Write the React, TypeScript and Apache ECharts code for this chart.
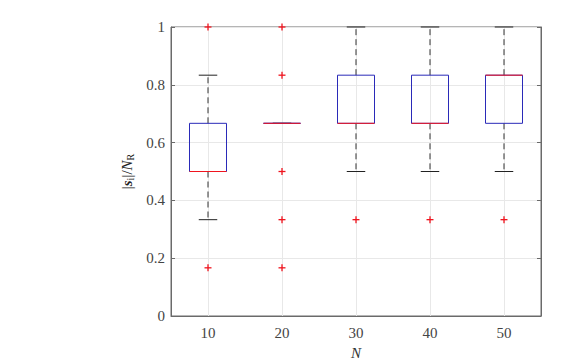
import React, { useEffect, useRef } from "react";
import * as echarts from "echarts";

const categories = ["10", "20", "30", "40", "50"];
const lowWhisker = [0.3333, 0.6667, 0.5, 0.5, 0.5];
const q1 = [0.5, 0.6667, 0.6667, 0.6667, 0.6667];
const median = [0.5, 0.6667, 0.6667, 0.6667, 0.8333];
const q3 = [0.6667, 0.6667, 0.8333, 0.8333, 0.8333];
const highWhisker = [0.8333, 0.6667, 1, 1, 1];
const outliers: [number, number][] = [
  [0, 1], [0, 0.1667],
  [1, 1], [1, 0.8333], [1, 0.5], [1, 0.3333], [1, 0.1667],
  [2, 0.3333], [3, 0.3333], [4, 0.3333],
];

const FONT = "serif";
const BLUE = "#2a2ab8";
const RED = "#f0141e";

export default function App() {
  const ref = useRef<HTMLDivElement>(null);
  useEffect(() => {
    if (!ref.current) return;
    const chart = echarts.init(ref.current, null, { renderer: "svg" });
    const boxData = categories.map((_, i) => [i, lowWhisker[i], q1[i], median[i], q3[i], highWhisker[i]]);
    chart.setOption({
      animation: false,
      textStyle: { fontFamily: FONT },
      grid: {
        left: 163, top: 19, width: 370, height: 289,
        outerBoundsMode: "none", containLabel: false,
        show: true, borderColor: "#6a6a6a", borderWidth: 1, backgroundColor: "transparent",
      },
      xAxis: {
        type: "category",
        data: categories,
        boundaryGap: true,
        name: "N",
        nameLocation: "middle",
        nameGap: 29,
        nameTextStyle: { fontFamily: FONT, fontStyle: "italic", fontSize: 15, color: "#333" },
        axisLine: { show: true, lineStyle: { color: "#6a6a6a" } },
        axisTick: { show: false },
        axisLabel: { fontFamily: FONT, fontSize: 15, color: "#444", margin: 9 },
        splitLine: { show: true, alignWithLabel: true, lineStyle: { color: "#e8e8e8" } },
      },
      yAxis: [
        {
          type: "value",
          min: 0,
          max: 1,
          interval: 0.2,
          name: "{a||}{s|s}{i|i}{a||/}{n|N}{r|R}",
          nameLocation: "middle",
          nameGap: 34,
          nameRotate: 90,
          nameTextStyle: {
            fontFamily: FONT,
            fontSize: 15,
            color: "#222",
            rich: {
              a: { fontFamily: FONT, fontSize: 15, color: "#222" },
              s: { fontFamily: FONT, fontSize: 15, fontWeight: "bold", fontStyle: "italic", color: "#222" },
              i: { fontFamily: FONT, fontSize: 10, color: "#222", verticalAlign: "bottom", padding: [6, 0, 0, 0] },
              n: { fontFamily: FONT, fontSize: 15, fontStyle: "italic", color: "#222" },
              r: { fontFamily: FONT, fontSize: 10, color: "#222", verticalAlign: "bottom", padding: [6, 0, 0, 0] },
            },
          },
          axisLine: { show: true, lineStyle: { color: "#6a6a6a" } },
          axisTick: { show: true, inside: true, length: 4, lineStyle: { color: "#6a6a6a" } },
          axisLabel: { fontFamily: FONT, fontSize: 15, color: "#444", margin: 6 },
          splitLine: { show: true, lineStyle: { color: "#e8e8e8" } },
        },
        {
          type: "value",
          min: 0,
          max: 1,
          interval: 0.2,
          position: "right",
          axisLine: { show: true, lineStyle: { color: "#6a6a6a" } },
          axisTick: { show: true, inside: true, length: 4, lineStyle: { color: "#6a6a6a" } },
          axisLabel: { show: false },
          splitLine: { show: false },
        },
      ],
      series: [
        {
          type: "custom",
          data: boxData,
          encode: { x: 0, y: [1, 2, 3, 4, 5] },
          clip: false,
          renderItem: (params: any, api: any) => {
            const idx = api.value(0);
            const band = api.size([1, 0])[0];
            const bw = band * 0.5;
            const cw = bw * 0.5;
            const pLow = api.coord([idx, api.value(1)]);
            const pQ1 = api.coord([idx, api.value(2)]);
            const pMed = api.coord([idx, api.value(3)]);
            const pQ3 = api.coord([idx, api.value(4)]);
            const pHigh = api.coord([idx, api.value(5)]);
            const x = pMed[0];
            const children: any[] = [];
            const dash = { stroke: "#333", lineWidth: 1, lineDash: [6, 4] };
            if (pLow[1] !== pQ1[1]) {
              children.push({ type: "line", shape: { x1: x, y1: pQ1[1], x2: x, y2: pLow[1] }, style: dash });
            }
            if (pHigh[1] !== pQ3[1]) {
              children.push({ type: "line", shape: { x1: x, y1: pQ3[1], x2: x, y2: pHigh[1] }, style: dash });
            }
            children.push({ type: "line", shape: { x1: x - cw / 2, y1: pLow[1], x2: x + cw / 2, y2: pLow[1] }, style: { stroke: "#222", lineWidth: 1 } });
            children.push({ type: "line", shape: { x1: x - cw / 2, y1: pHigh[1], x2: x + cw / 2, y2: pHigh[1] }, style: { stroke: "#222", lineWidth: 1 } });
            children.push({
              type: "rect",
              shape: { x: x - bw / 2, y: pQ3[1], width: bw, height: pQ1[1] - pQ3[1] },
              style: { fill: "none", stroke: BLUE, lineWidth: 1 },
            });
            children.push({ type: "line", shape: { x1: x - bw / 2, y1: pMed[1], x2: x + bw / 2, y2: pMed[1] }, style: { stroke: RED, lineWidth: 1 } });
            return { type: "group", children };
          },
        },
        {
          type: "custom",
          data: outliers,
          encode: { x: 0, y: 1 },
          clip: false,
          renderItem: (params: any, api: any) => {
            const p = api.coord([api.value(0), api.value(1)]);
            const r = 3.5;
            return {
              type: "group",
              children: [
                { type: "line", shape: { x1: p[0] - r, y1: p[1], x2: p[0] + r, y2: p[1] }, style: { stroke: RED, lineWidth: 1.3 } },
                { type: "line", shape: { x1: p[0], y1: p[1] - r, x2: p[0], y2: p[1] + r }, style: { stroke: RED, lineWidth: 1.3 } },
              ],
            };
          },
        },
      ],
    });
    return () => chart.dispose();
  }, []);
  return <div ref={ref} style={{ width: 570, height: 354 }} />;
}
